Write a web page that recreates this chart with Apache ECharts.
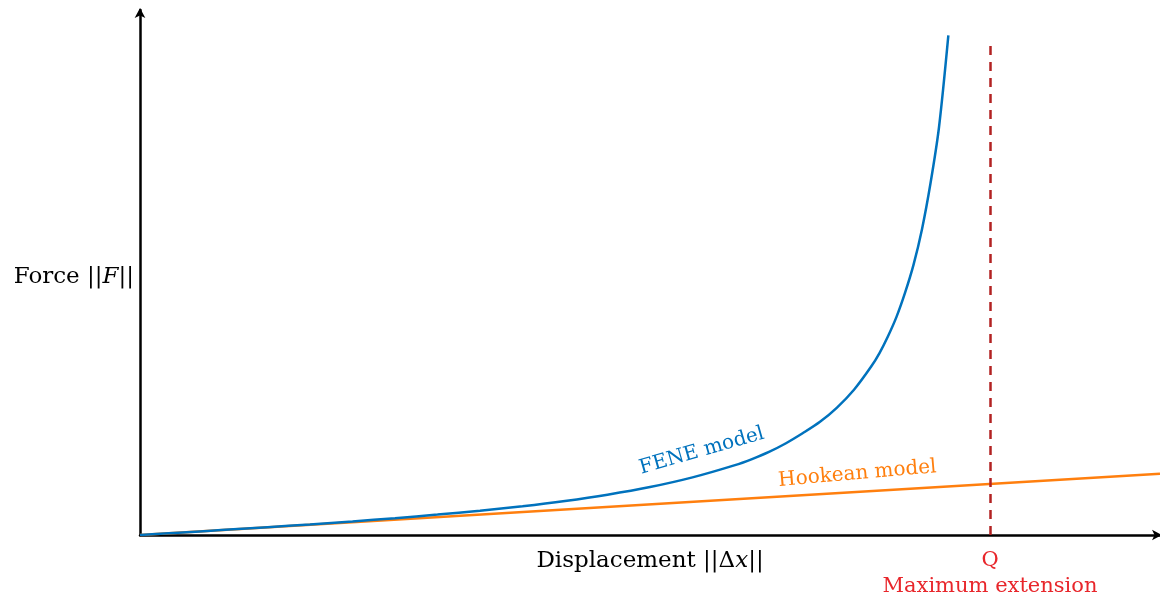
<!DOCTYPE html>
<html>
<head>
<meta charset="utf-8">
<script src="https://cdn.jsdelivr.net/npm/echarts@6/dist/echarts.min.js"></script>
<style>html,body{margin:0;padding:0;background:#fff}#c{width:1160px;height:599px}</style>
</head>
<body>
<div id="c"></div>
<script>
// Displacement in units of Q (max extension), force in units of F(Q) of the Hookean spring
const feneX = [0, 0.05, 0.1, 0.15, 0.2, 0.25, 0.3, 0.35, 0.4, 0.45, 0.5, 0.55, 0.6, 0.65, 0.7, 0.72, 0.74, 0.76, 0.78, 0.8, 0.82, 0.84, 0.86, 0.87, 0.88, 0.89, 0.9, 0.91, 0.92, 0.93, 0.94, 0.951];
const feneY = [0, 0.05, 0.101, 0.153, 0.208, 0.267, 0.33, 0.4, 0.476, 0.564, 0.667, 0.79, 0.94, 1.13, 1.37, 1.49, 1.63, 1.8, 2.0, 2.22, 2.5, 2.85, 3.3, 3.57, 3.9, 4.28, 4.75, 5.3, 6.0, 6.9, 8.0, 9.8];
const hookX = [0, 1.2];
const hookY = [0, 1.2];
const Q = 1;
const qLineTop = 9.67;
const xMax = 1.2;
const yMax = 10.3;
const feneLabelPos = [0.661, 1.65];
const hookLabelPos = [0.844, 1.2];

const font = '"DejaVu Serif", "Liberation Serif", serif';
const fs = 23;
const chart = echarts.init(document.getElementById('c'));
chart.setOption({
  animation: false,
  grid: {left: 140, right: 0, top: 10, bottom: 64, outerBoundsMode: 'none', containLabel: false},
  xAxis: {
    type: 'value', min: 0, max: xMax,
    name: 'Displacement ||Δ{i|x}||',
    nameLocation: 'middle', nameGap: 15, nameMoveOverlap: false,
    nameTextStyle: {fontFamily: font, fontSize: fs, color: '#000', verticalAlign: 'top',
      rich: {i: {fontFamily: font, fontSize: fs, fontStyle: 'italic', color: '#000'}}},
    axisLine: {show: true, onZero: false, lineStyle: {color: '#000', width: 2.5},
      symbol: ['none', 'arrow'], symbolSize: [8, 10], symbolOffset: [0, 2]},
    axisTick: {show: false},
    splitLine: {show: false},
    axisLabel: {
      customValues: [Q],
      formatter: () => '{q|Q}\n{m|Maximum extension}',
      margin: 13,
      rich: {
        q: {fontFamily: font, fontSize: 21, color: '#e8262b', lineHeight: 26, align: 'center'},
        m: {fontFamily: font, fontSize: 21, color: '#e8262b', lineHeight: 26, align: 'center'}
      }
    }
  },
  yAxis: {
    type: 'value', min: 0, max: yMax,
    name: 'Force ||{i|F}||',
    nameLocation: 'middle', nameRotate: 0, nameGap: 6, nameMoveOverlap: false,
    nameTextStyle: {fontFamily: font, fontSize: fs, color: '#000', align: 'right', padding: [10, 0, 0, 0],
      rich: {i: {fontFamily: font, fontSize: fs, fontStyle: 'italic', color: '#000'}}},
    axisLine: {show: true, onZero: false, lineStyle: {color: '#000', width: 2.5},
      symbol: ['none', 'arrow'], symbolSize: [8, 10], symbolOffset: [0, 2]},
    axisTick: {show: false},
    axisLabel: {show: false},
    splitLine: {show: false}
  },
  series: [
    {
      type: 'line', name: 'Hookean model',
      data: hookX.map((x, i) => [x, hookY[i]]),
      showSymbol: false, lineStyle: {color: '#ff7f0e', width: 2.5},
      markPoint: {
        symbol: 'circle', symbolSize: 0,
        data: [{coord: hookLabelPos}],
        label: {show: true, position: 'inside', formatter: 'Hookean model', rotate: 5,
          fontFamily: font, fontSize: 20, color: '#ff7f0e'}
      },
      markLine: {
        silent: true, symbol: ['none', 'none'],
        lineStyle: {color: '#b22222', type: [9, 7], width: 2.5},
        label: {show: false},
        data: [[{coord: [Q, 0]}, {coord: [Q, qLineTop]}]]
      },
      z: 3
    },
    {
      type: 'line', name: 'FENE model',
      data: feneX.map((x, i) => [x, feneY[i]]),
      showSymbol: false, smooth: 0.3,
      lineStyle: {color: '#0072bd', width: 2.5},
      markPoint: {
        symbol: 'circle', symbolSize: 0,
        data: [{coord: feneLabelPos}],
        label: {show: true, position: 'inside', formatter: 'FENE model', rotate: 16,
          fontFamily: font, fontSize: 20, color: '#0072bd'}
      },
      z: 4
    }
  ]
});
</script>
</body>
</html>
